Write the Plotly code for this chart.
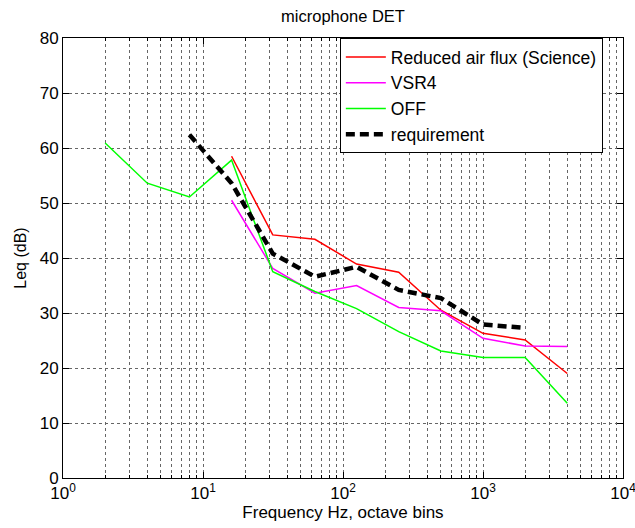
import plotly.graph_objects as go

freqs = [2, 4, 8, 16, 31.5, 63, 125, 250, 500, 1000, 2000, 4000]
reduced = [None, None, None, 58.5, 44.2, 43.4, 38.9, 37.4, 30.5, 26.3, 25.1, 19.0]
vsr4 = [None, None, None, 50.5, 38.1, 33.6, 35.0, 31.0, 30.4, 25.4, 24.0, 23.9]
off = [60.9, 53.6, 51.1, 57.8, 37.5, 33.9, 30.8, 26.6, 23.1, 21.9, 21.9, 13.6]
requirement = [None, None, 62.4, 53.6, 40.8, 36.6, 38.4, 34.2, 32.7, 27.9, 27.3, None]

xtickvals = [1, 10, 100, 1000, 10000]
xticktext = ["10<sup>0</sup>", "10<sup>1</sup>", "10<sup>2</sup>", "10<sup>3</sup>", "10<sup>4</sup>"]
xminorvals = [m * d for d in [1, 10, 100, 1000] for m in range(2, 10)]
ytickvals = [0, 10, 20, 30, 40, 50, 60, 70, 80]

fig = go.Figure()
fig.add_trace(go.Scatter(x=freqs, y=reduced, mode="lines", name="Reduced air flux (Science)",
                         line=dict(color="#FF0000", width=1.5)))
fig.add_trace(go.Scatter(x=freqs, y=vsr4, mode="lines", name="VSR4",
                         line=dict(color="#FF00FF", width=1.5)))
fig.add_trace(go.Scatter(x=freqs, y=off, mode="lines", name="OFF",
                         line=dict(color="#00FF00", width=1.5)))
fig.add_trace(go.Scatter(x=freqs, y=requirement, mode="lines", name="requirement",
                         line=dict(color="#000000", width=4.5, dash="9px,5px")))

font = "Liberation Sans, Arial, sans-serif"
grid = dict(gridcolor="#666666", griddash="dot", gridwidth=1)
fig.update_layout(
    width=635, height=528,
    margin=dict(l=63, r=12, t=38, b=50),
    paper_bgcolor="white", plot_bgcolor="white",
    font=dict(family=font, color="black", size=16),
    title=dict(text="microphone DET", x=0.5, xref="paper", xanchor="center",
               y=1 - 16 / 528, yanchor="middle", font=dict(size=16.5)),
    showlegend=True,
    legend=dict(x=0.964, y=1.0, xanchor="right", yanchor="top",
                bgcolor="white", bordercolor="black", borderwidth=1,
                font=dict(size=17.5), tracegroupgap=0, itemwidth=40),
)
fig.update_xaxes(
    type="log", range=[0, 4], automargin=False,
    tickmode="array", tickvals=xtickvals, ticktext=xticktext,
    ticklabeloverflow="allow",
    ticks="inside", ticklen=6, tickcolor="black",
    showline=True, linecolor="black", linewidth=1, mirror="ticks",
    showgrid=True, **grid,
    minor=dict(tickmode="array", tickvals=xminorvals, ticks="inside", ticklen=3,
               tickcolor="black", showgrid=True, **grid),
    zeroline=False,
    title=dict(text="Frequency Hz, octave bins", font=dict(size=17), standoff=2),
    tickfont=dict(size=17),
)
fig.update_yaxes(
    range=[0, 80], tickvals=ytickvals, automargin=False,
    ticks="inside", ticklen=6, tickcolor="black",
    showline=True, linecolor="black", linewidth=1, mirror="ticks",
    showgrid=True, **grid,
    zeroline=False,
    title=dict(text="Leq (dB)", font=dict(size=16), standoff=9),
    tickfont=dict(size=17),
)

fig.write_html("out.html")
